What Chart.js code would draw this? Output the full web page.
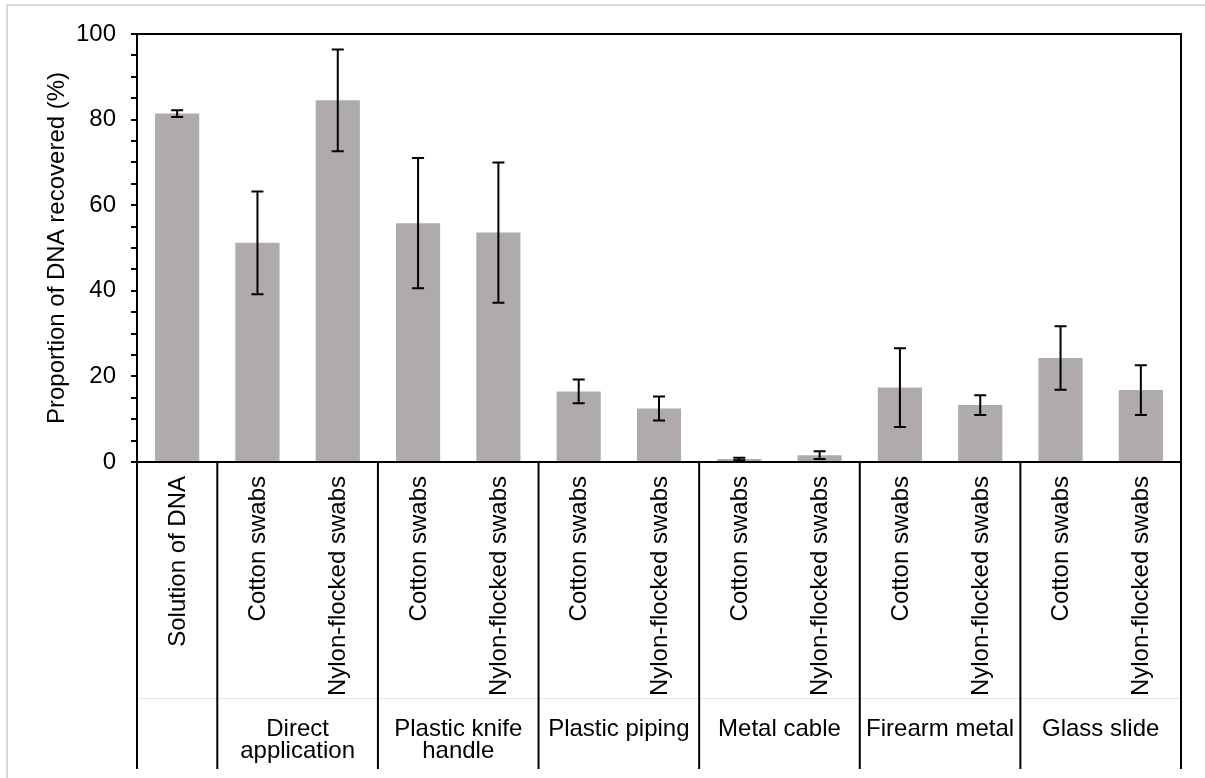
<!DOCTYPE html>
<html>
<head>
<meta charset="utf-8">
<script src="https://cdn.jsdelivr.net/npm/chart.js@4/dist/chart.umd.min.js"></script>
<style>
  html, body { margin: 0; padding: 0; background: #ffffff; }
  #wrap { position: absolute; left: 0; top: 0; width: 1205px; height: 778px; }
</style>
</head>
<body>
<div id="wrap"><canvas id="c" width="1205" height="778"></canvas></div>
<script>
// ---- data ----
const categories = [
  "Solution of DNA",
  "Cotton swabs", "Nylon-flocked swabs",
  "Cotton swabs", "Nylon-flocked swabs",
  "Cotton swabs", "Nylon-flocked swabs",
  "Cotton swabs", "Nylon-flocked swabs",
  "Cotton swabs", "Nylon-flocked swabs",
  "Cotton swabs", "Nylon-flocked swabs"
];
const groupLabels = [
  [""],
  ["Direct", "application"],
  ["Plastic knife", "handle"],
  ["Plastic piping"],
  ["Metal cable"],
  ["Firearm metal"],
  ["Glass slide"]
];
const groupSizes = [1, 2, 2, 2, 2, 2, 2];
const meanValues = [81.4, 51.2, 84.5, 55.8, 53.6, 16.5, 12.5, 0.7, 1.6, 17.4, 13.3, 24.3, 16.8];
const errorValues = [0.8, 12.0, 11.9, 15.2, 16.4, 2.8, 2.8, 0.3, 0.9, 9.2, 2.3, 7.4, 5.8];
const yTickLabels = ["0", "20", "40", "60", "80", "100"];
const yAxisTitle = "Proportion of DNA recovered (%)";

const FONT = "'Liberation Sans', Arial, sans-serif";

const decorPlugin = {
  id: 'decor',
  beforeDraw(chart) {
    const ctx = chart.ctx;
    ctx.save();
    ctx.fillStyle = '#ffffff';
    ctx.fillRect(0, 0, chart.width, chart.height);
    // outer light frame
    ctx.strokeStyle = '#d9d9d9';
    ctx.lineWidth = 2;
    ctx.beginPath();
    ctx.moveTo(7, 800);
    ctx.lineTo(7, 5);
    ctx.lineTo(1210, 5);
    ctx.stroke();
    ctx.restore();
  },
  afterDatasetsDraw(chart) {
    const ctx = chart.ctx;
    const xs = chart.scales.x, ys = chart.scales.y;
    const ca = chart.chartArea;
    ctx.save();
    // error bars
    ctx.strokeStyle = '#000';
    ctx.lineWidth = 2;
    meanValues.forEach((m, i) => {
      const x = xs.getPixelForValue(i);
      const yt = ys.getPixelForValue(m + errorValues[i]);
      const yb = ys.getPixelForValue(Math.max(0, m - errorValues[i]));
      ctx.beginPath();
      ctx.moveTo(x, yt); ctx.lineTo(x, yb);
      ctx.moveTo(x - 6, yt); ctx.lineTo(x + 6, yt);
      ctx.moveTo(x - 6, yb); ctx.lineTo(x + 6, yb);
      ctx.stroke();
    });
    // plot area top and right border
    ctx.beginPath();
    ctx.moveTo(ca.left, ca.top);
    ctx.lineTo(ca.right, ca.top);
    ctx.lineTo(ca.right, ca.bottom);
    ctx.stroke();

    // category labels (rotated)
    ctx.fillStyle = '#000';
    ctx.font = '24px ' + FONT;
    categories.forEach((lab, i) => {
      const x = xs.getPixelForValue(i);
      ctx.save();
      ctx.translate(x, ca.bottom + 14);
      ctx.rotate(-Math.PI / 2);
      ctx.textAlign = 'right';
      ctx.textBaseline = 'middle';
      ctx.fillText(lab, 0, 1);
      ctx.restore();
    });

    // group separators and labels
    const step = (ca.right - ca.left) / categories.length;
    const bottomY = 769;
    // faint horizontal line
    ctx.strokeStyle = '#e4e4e4';
    ctx.lineWidth = 1;
    ctx.beginPath();
    ctx.moveTo(ca.left, 698.5); ctx.lineTo(ca.right, 698.5);
    ctx.stroke();

    ctx.strokeStyle = '#000';
    ctx.lineWidth = 2;
    let idx = 0;
    const bounds = [0];
    groupSizes.forEach(s => { idx += s; bounds.push(idx); });
    bounds.forEach(b => {
      const x = ca.left + b * step;
      ctx.beginPath();
      ctx.moveTo(x, ca.bottom); ctx.lineTo(x, bottomY);
      ctx.stroke();
    });
    ctx.textAlign = 'center';
    ctx.textBaseline = 'alphabetic';
    groupLabels.forEach((lines, g) => {
      const cx = ca.left + (bounds[g] + bounds[g + 1]) / 2 * step;
      lines.forEach((ln, k) => {
        ctx.fillText(ln, cx, 736 + k * 22);
      });
    });

    // y axis title
    ctx.save();
    ctx.translate(57, (ca.top + ca.bottom) / 2);
    ctx.rotate(-Math.PI / 2);
    ctx.textAlign = 'center';
    ctx.textBaseline = 'middle';
    ctx.fillText(yAxisTitle, 0, 0);
    ctx.restore();

    ctx.restore();
  }
};

new Chart(document.getElementById('c'), {
  type: 'bar',
  data: {
    labels: categories.map((c, i) => c + ' ' + i),
    datasets: [{
      data: meanValues,
      backgroundColor: '#AFABAB',
      borderWidth: 0,
      categoryPercentage: 1.0,
      barPercentage: 0.55
    }]
  },
  options: {
    responsive: false,
    animation: false,
    devicePixelRatio: 1,
    layout: { padding: { top: 34, right: 24, left: 0, bottom: 0 } },
    plugins: { legend: { display: false }, tooltip: { enabled: false } },
    scales: {
      x: {
        ticks: { display: false },
        grid: { display: false },
        border: { display: true, color: '#000', width: 2 },
        afterFit(scale) { scale.height = 316; }
      },
      y: {
        min: 0, max: 100,
        ticks: {
          stepSize: 5,
          autoSkip: false,
          padding: 15,
          color: '#000',
          font: { family: FONT, size: 24 },
          callback: (v) => (v % 20 === 0 ? yTickLabels[v / 20] : '')
        },
        grid: { drawOnChartArea: false, drawTicks: true, tickLength: 6, color: '#000', lineWidth: 2 },
        border: { display: true, color: '#000', width: 2 },
        afterFit(scale) { scale.width = 137; }
      }
    }
  },
  plugins: [decorPlugin]
});
</script>
</body>
</html>
